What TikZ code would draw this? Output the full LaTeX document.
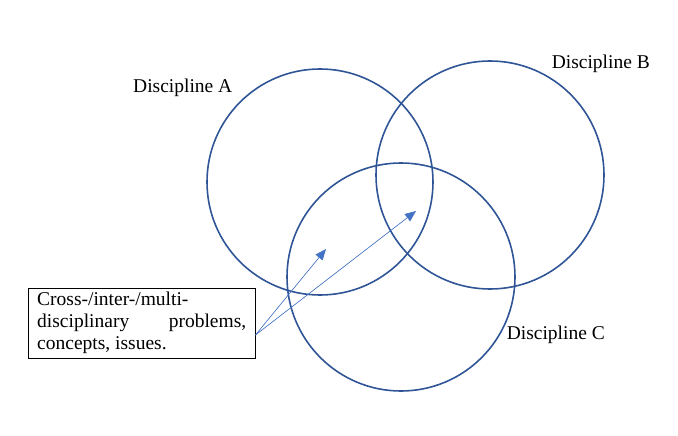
\documentclass[tikz,border=0pt]{standalone}
\usepackage{fontspec}
\setmainfont{Liberation Serif}
\usetikzlibrary{arrows.meta}
\definecolor{ringblue}{HTML}{2F5597}
\definecolor{arrowblue}{HTML}{4472C4}
\begin{document}
\begin{tikzpicture}
        [x=1pt,y=-1pt,
        disc/.style={draw=ringblue, line width=1.6pt},
        lbl/.style={font=\fontsize{19.5}{22}\selectfont, inner sep=0pt},
        pointer/.style={draw=arrowblue, line width=0.6pt, -{Triangle[length=11pt,width=9pt]}, fill=arrowblue}]
        \useasboundingbox (0,0) rectangle (678,436);
        \draw[disc] (320,182) circle (113);
        \draw[disc] (490,175) circle (114);
        \draw[disc] (401,277) circle (114);
        \node[lbl, anchor=west] (labelA) at (133,88) {Discipline A};
        \node[lbl, anchor=east] (labelB) at (650,64) {Discipline B};
        \node[lbl, anchor=east] (labelC) at (605,335) {Discipline C};
        \node[draw, lbl, inner xsep=9pt, inner ysep=4pt, text width=209pt, align=justify, anchor=north west] (box) at (28,288)
          {Cross-/inter-/multi-\\disciplinary\hfill problems,\\concepts, issues.};
        \coordinate (tipA) at (326,249);
        \coordinate (tipB) at (416,211);
        \draw[pointer] (box.east) ++(0,12) coordinate (src) -- (tipA);
        \draw[pointer] (src) -- (tipB);
\end{tikzpicture}
\end{document}
